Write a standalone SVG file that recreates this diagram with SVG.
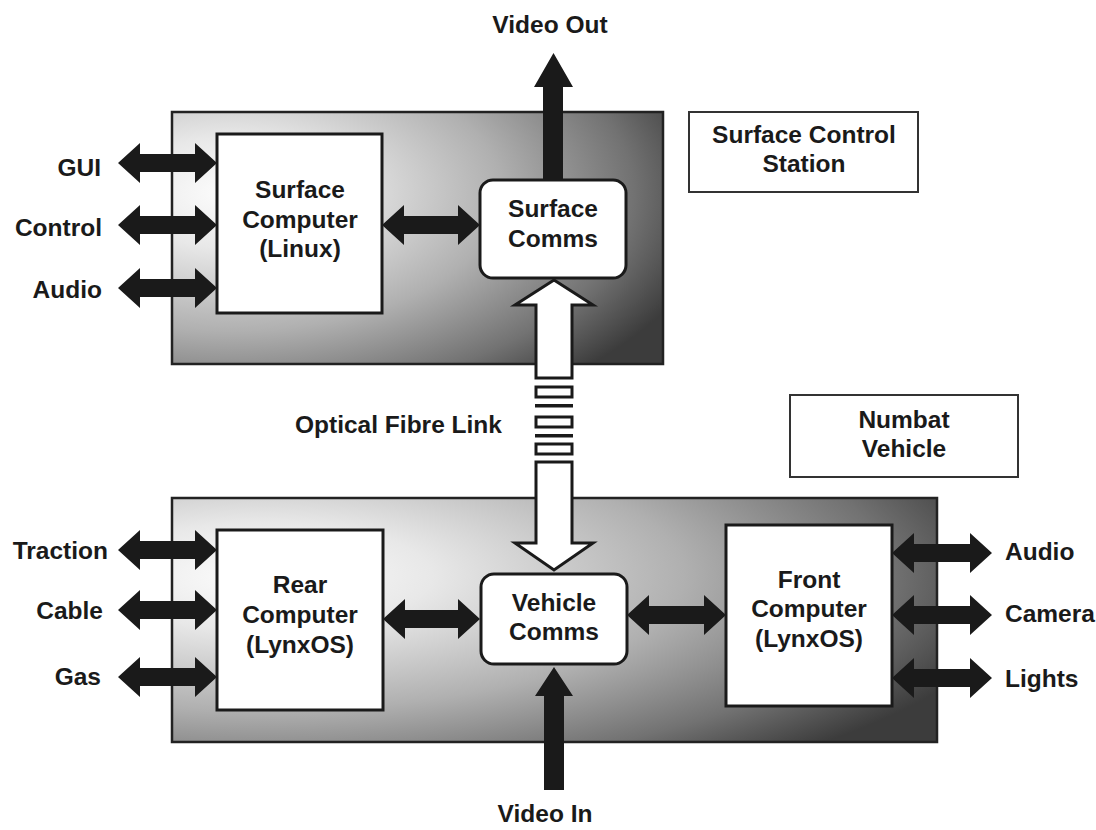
<svg xmlns="http://www.w3.org/2000/svg" width="1096" height="830" viewBox="0 0 1096 830">
<style>
text{font-family:"Liberation Sans",Arial,sans-serif;font-weight:bold;font-size:24.5px;fill:#1a1a1a}
.c{text-anchor:middle}
.r{text-anchor:end}
.big{stroke:#222;stroke-width:2.5}
.box{fill:#fff;stroke:#1a1a1a;stroke-width:3}
.lbl{fill:#fff;stroke:#333;stroke-width:2}
.arr{fill:#1a1a1a;stroke:none}
.hol{fill:#fff;stroke:#1a1a1a;stroke-width:3;stroke-linejoin:miter}
</style>
<defs>
<radialGradient id="g" cx="0.12" cy="0.32" r="1.0" gradientUnits="objectBoundingBox">
<stop offset="0" stop-color="#fdfdfd"/>
<stop offset="0.22" stop-color="#e8e8e8"/>
<stop offset="0.55" stop-color="#b0b0b0"/>
<stop offset="0.82" stop-color="#727272"/>
<stop offset="1" stop-color="#3c3c3c"/>
</radialGradient>
</defs>
<rect width="1096" height="830" fill="#fff"/>

<g id="surface-station">
<rect class="big" x="172" y="112" width="491" height="252" fill="url(#g)"/>
</g>
<g id="vehicle">
<rect class="big" x="172" y="498" width="765" height="244" fill="url(#g)"/>
</g>

<g id="connectors">
<polygon class="arr" points="118,163 140,143 140,154 195,154 195,143 217,163 195,183 195,172 140,172 140,183"/>
<polygon class="arr" points="118,225 140,205 140,216 195,216 195,205 217,225 195,245 195,234 140,234 140,245"/>
<polygon class="arr" points="118,288 140,268 140,279 195,279 195,268 217,288 195,308 195,297 140,297 140,308"/>
<polygon class="arr" points="382,225 404,205 404,216 458,216 458,205 480,225 458,245 458,234 404,234 404,245"/>
<polygon class="arr" points="543,180 543,87 534,87 553.5,53 573,87 563,87 563,180"/>
<polygon class="arr" points="118,550 140,530 140,541 195,541 195,530 217,550 195,570 195,559 140,559 140,570"/>
<polygon class="arr" points="118,610 140,590 140,601 195,601 195,590 217,610 195,630 195,619 140,619 140,630"/>
<polygon class="arr" points="118,677 140,657 140,668 195,668 195,657 217,677 195,697 195,686 140,686 140,697"/>
<polygon class="arr" points="383,619 405,599 405,610 458,610 458,599 480,619 458,639 458,628 405,628 405,639"/>
<polygon class="arr" points="627,615 649,595 649,606 704,606 704,595 726,615 704,635 704,624 649,624 649,635"/>
<polygon class="arr" points="892,553 914,533 914,544 970,544 970,533 992,553 970,573 970,562 914,562 914,573"/>
<polygon class="arr" points="892,615 914,595 914,606 970,606 970,595 992,615 970,635 970,624 914,624 914,635"/>
<polygon class="arr" points="892,678 914,658 914,669 970,669 970,658 992,678 970,698 970,687 914,687 914,698"/>
<polygon class="arr" points="544,790 544,696 535,696 554,667 573,696 564,696 564,790"/>
<polygon class="hol" points="554,280 593,305 572,305 572,378 536,378 536,305 515,305"/>
<rect class="hol" x="536" y="387" width="36" height="10"/>
<rect class="arr" x="535" y="404" width="38" height="3.5"/>
<rect class="hol" x="536" y="417" width="36" height="10"/>
<rect class="arr" x="535" y="434" width="38" height="3.5"/>
<rect class="hol" x="536" y="444" width="36" height="10"/>
<polygon class="hol" points="536,462 572,462 572,543 593,543 554,570 515,543 536,543"/>
</g>

<g id="surface-computer">
<rect class="box" x="217" y="134" width="165" height="179"/>
<text class="c" x="300" y="198">Surface</text>
<text class="c" x="300" y="228">Computer</text>
<text class="c" x="300" y="257">(Linux)</text>
</g>
<g id="surface-comms">
<rect class="box" x="480" y="180" width="146" height="98" rx="13"/>
<text class="c" x="553" y="217">Surface</text>
<text class="c" x="553" y="247">Comms</text>
</g>
<g id="rear-computer">
<rect class="box" x="217" y="530" width="166" height="180"/>
<text class="c" x="300" y="593">Rear</text>
<text class="c" x="300" y="623">Computer</text>
<text class="c" x="300" y="653">(LynxOS)</text>
</g>
<g id="vehicle-comms">
<rect class="box" x="481" y="574" width="146" height="90" rx="13"/>
<text class="c" x="554" y="611">Vehicle</text>
<text class="c" x="554" y="640">Comms</text>
</g>
<g id="front-computer">
<rect class="box" x="726" y="525" width="166" height="181"/>
<text class="c" x="809" y="588">Front</text>
<text class="c" x="809" y="617">Computer</text>
<text class="c" x="809" y="647">(LynxOS)</text>
</g>

<g id="label-surface-control-station">
<rect class="lbl" x="689" y="112" width="229" height="80"/>
<text class="c" x="804" y="143">Surface Control</text>
<text class="c" x="804" y="172">Station</text>
</g>
<g id="label-numbat-vehicle">
<rect class="lbl" x="790" y="395" width="228" height="82"/>
<text class="c" x="904" y="428">Numbat</text>
<text class="c" x="904" y="457">Vehicle</text>
</g>

<g id="labels">
<text class="c" x="550" y="33">Video Out</text>
<text class="c" x="545" y="822">Video In</text>
<text x="295" y="433">Optical Fibre Link</text>
<text class="r" x="101" y="176">GUI</text>
<text class="r" x="102" y="236">Control</text>
<text class="r" x="102" y="298">Audio</text>
<text class="r" x="108" y="559">Traction</text>
<text class="r" x="103" y="619">Cable</text>
<text class="r" x="101" y="685">Gas</text>
<text x="1005" y="560">Audio</text>
<text x="1005" y="622">Camera</text>
<text x="1005" y="687">Lights</text>
</g>
</svg>
